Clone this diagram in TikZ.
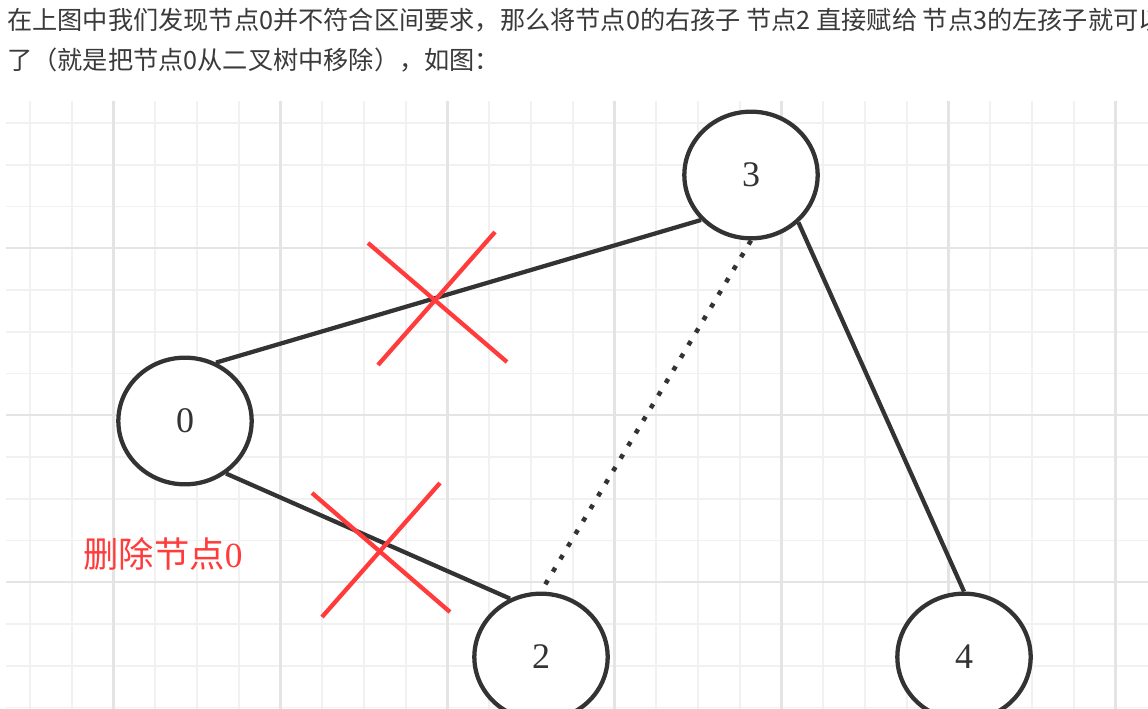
\documentclass[tikz,border=0pt]{standalone}
\usepackage{fontspec}
\setmainfont{Liberation Serif}
\newfontfamily\cjksans{Noto Sans CJK SC}
\usetikzlibrary{shapes.geometric}
\definecolor{Ink}{HTML}{333333}
\definecolor{Body}{HTML}{3A3A3A}
\definecolor{Cut}{HTML}{FF3B3B}
\definecolor{GridMinor}{HTML}{F1F1F1}
\definecolor{GridMajor}{HTML}{E4E4E4}

\begin{document}
\begin{tikzpicture}[
  x=0.75pt, y=-0.75pt,
  treenode/.style={ellipse, draw=Ink, line width=3.2pt, fill=white, minimum width=100pt, minimum height=95pt, inner sep=0pt, text=Ink, font=\fontsize{27}{27}\selectfont},
  edge/.style={draw=Ink, line width=3.2pt},
  hint/.style={edge, line width=3.4pt, dash pattern=on 3.5pt off 7.5pt},
  cut/.style={draw=Cut, line width=3.2pt},
  minorline/.style={draw=GridMinor, line width=1.4pt},
  majorline/.style={draw=GridMajor, line width=1.8pt},
  bodytext/.style={anchor=base west, inner sep=0pt, text=Body, font=\cjksans\fontsize{18.9}{18.9}\selectfont},
  note/.style={inner sep=0pt, text=Cut, font=\fontsize{26.5}{26.5}\selectfont}
]
\useasboundingbox[fill=white] (0,0) rectangle (1148,709);
\node[bodytext] (line1) at (7,30) {在上图中我们发现节点0并不符合区间要求，那么将节点0的右孩子 节点2 直接赋给 节点3的左孩子就可以};
\node[bodytext] (line2) at (7,70) {了（就是把节点0从二叉树中移除），如图：};
\foreach \k in {0,...,26} \draw[minorline] ({30+41.75*\k},101) -- ({30+41.75*\k},709);
\foreach \k in {0,...,14} \draw[minorline] (6,{123+41.75*\k}) -- (1148,{123+41.75*\k});
\foreach \k in {2,6,...,26} \draw[majorline] ({30+41.75*\k},101) -- ({30+41.75*\k},709);
\foreach \k in {3,7,11} \draw[majorline] (6,{123+41.75*\k}) -- (1148,{123+41.75*\k});
\node[treenode] (n3) at (751,175) {3};
\node[treenode] (n0) at (185,421) {0};
\node[treenode] (n2) at (541,657) {2};
\node[treenode] (n4) at (964,657) {4};
\draw[edge] (n0.62) -- (n3.222);
\draw[edge] (n0.-52) -- (n2.118);
\draw[edge] (n3.-45) -- (n4.north);
\draw[hint] (n3.south) -- (n2.north);
\draw[cut] (368,243) -- (507,362);
\draw[cut] (378,365) -- (495,232);
\draw[cut] (312,493) -- (450,612);
\draw[cut] (322,617) -- (440,483);
\node[note] (drop) at (163,554) {{\cjksans 删除节点}0};
\end{tikzpicture}
\end{document}
